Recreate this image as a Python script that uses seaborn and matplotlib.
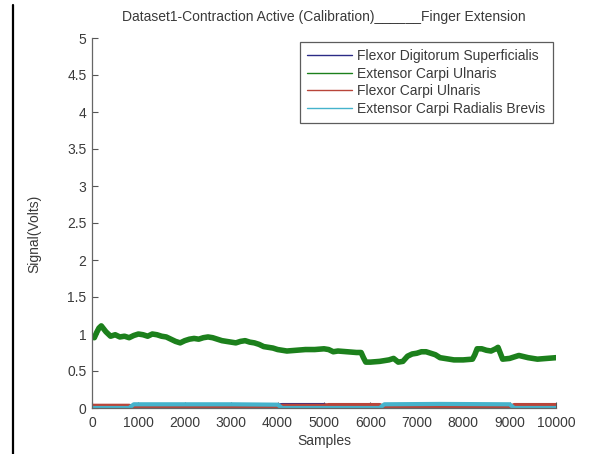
import numpy as np
import pandas as pd
import matplotlib
matplotlib.use("Agg")
import matplotlib.pyplot as plt
from matplotlib.lines import Line2D
import seaborn as sns

# ---------------- data ----------------
title = "Dataset1-Contraction Active (Calibration)______Finger Extension"
series_names = ["Flexor Digitorum Superficialis", "Extensor Carpi Ulnaris",
                "Flexor Carpi Ulnaris", "Extensor Carpi Radialis Brevis"]
series_colors = ["#2b2b86", "#1c801c", "#b8453a", "#45b3cc"]

ecu_samples = [0, 50, 100, 150, 200, 250, 300, 400, 500, 600, 700, 800, 900,
               1000, 1100, 1200, 1300, 1400, 1500, 1600, 1700, 1800, 1900,
               2000, 2100, 2200, 2300, 2400, 2500, 2600, 2700, 2800, 2900,
               3000, 3100, 3200, 3300, 3400, 3500, 3600, 3700, 3800, 3900,
               4000, 4200, 4400, 4600, 4800, 5000, 5100, 5200, 5300, 5500,
               5700, 5800, 5850, 5900, 6000, 6200, 6400, 6500, 6600, 6700,
               6800, 6900, 7000, 7100, 7200, 7300, 7400, 7500, 7600, 7800,
               8000, 8200, 8250, 8300, 8400, 8500, 8600, 8700, 8750, 8800,
               8850, 9000, 9200, 9400, 9600, 9800, 10000]
ecu_values = [0.96, 0.95, 1.02, 1.08, 1.11, 1.07, 1.03, 0.97, 0.99, 0.96, 0.97,
              0.95, 0.98, 1.00, 0.99, 0.97, 1.00, 0.99, 0.97, 0.96, 0.93, 0.90,
              0.88, 0.91, 0.93, 0.94, 0.93, 0.95, 0.96, 0.95, 0.93, 0.91, 0.90,
              0.89, 0.88, 0.90, 0.91, 0.89, 0.88, 0.86, 0.83, 0.82, 0.81, 0.79,
              0.77, 0.78, 0.79, 0.79, 0.80, 0.79, 0.76, 0.77, 0.76, 0.75, 0.75,
              0.68, 0.62, 0.62, 0.63, 0.65, 0.67, 0.62, 0.63, 0.70, 0.73, 0.74,
              0.76, 0.76, 0.74, 0.72, 0.68, 0.67, 0.65, 0.65, 0.66, 0.72, 0.80,
              0.80, 0.78, 0.77, 0.80, 0.82, 0.74, 0.66, 0.67, 0.71, 0.68, 0.66,
              0.67, 0.68]

low_samples = [0, 400, 800, 900, 2000, 3000, 4000, 4100, 5000, 5100, 6200,
               6300, 7500, 9000, 9100, 10000]
fds_values = [0.02, 0.02, 0.02, 0.03, 0.03, 0.03, 0.03, 0.04, 0.04, 0.02, 0.02,
              0.02, 0.02, 0.02, 0.02, 0.02]
fcu_values = [0.03, 0.03, 0.03, 0.01, 0.01, 0.01, 0.01, 0.03, 0.03, 0.04, 0.04,
              0.01, 0.01, 0.01, 0.04, 0.04]
ecrb_values = [0.00, 0.00, 0.00, 0.05, 0.05, 0.05, 0.045, 0.00, 0.00, 0.00,
               0.00, 0.05, 0.055, 0.05, 0.00, 0.00]

xticks = list(range(0, 10001, 1000))
yticks = [0, 0.5, 1, 1.5, 2, 2.5, 3, 3.5, 4, 4.5, 5]
ytick_labels = ["0", "0.5", "1", "1.5", "2", "2.5", "3", "3.5", "4", "4.5", "5"]

# ---------------- frame ----------------
frames = []
for name, xs, ys in [(series_names[0], low_samples, fds_values),
                     (series_names[1], ecu_samples, ecu_values),
                     (series_names[2], low_samples, fcu_values),
                     (series_names[3], low_samples, ecrb_values)]:
    frames.append(pd.DataFrame({"Samples": xs, "Signal": ys, "Muscle": name}))
df = pd.concat(frames, ignore_index=True)

sns.set_theme(style="ticks")
plt.rcParams["font.family"] = ["Liberation Sans", "DejaVu Sans"]
text_color = "#3a3a3a"

fig = plt.figure(figsize=(6.15, 4.54), dpi=100)
ax = fig.add_axes([92 / 615, 1 - 408 / 454, 464 / 615, 370 / 454])

lw = {series_names[0]: 3.0, series_names[1]: 4.0,
      series_names[2]: 3.0, series_names[3]: 3.0}
for name, color in zip(series_names, series_colors):
    sub = df[df["Muscle"] == name]
    sns.lineplot(data=sub, x="Samples", y="Signal", color=color, ax=ax,
                 linewidth=lw[name], estimator=None, sort=False, label=name)

ax.set_xlim(0, 10000)
ax.set_ylim(0, 5)
ax.set_xticks(xticks)
ax.set_xticklabels([str(t) for t in xticks])
ax.set_yticks(yticks)
ax.set_yticklabels(ytick_labels)
ax.tick_params(direction="in", length=4, width=0.8, colors="#555555",
               labelcolor=text_color, labelsize=10, pad=4)
ax.tick_params(axis="x", pad=6)
for s in ["top", "right"]:
    ax.spines[s].set_visible(False)
for s in ["left", "bottom"]:
    ax.spines[s].set_color("#666666")
    ax.spines[s].set_linewidth(0.9)

ax.set_xlabel("Samples", fontsize=10, color=text_color, labelpad=3)
ax.set_ylabel("Signal(Volts)", fontsize=10, color=text_color)
ax.yaxis.set_label_coords(-0.11, 0.47)
ax.set_title(title, fontsize=10, color=text_color, pad=12)

handles = [Line2D([0], [0], color=c, linewidth=1.0) for c in series_colors]
leg = ax.legend(handles, series_names, loc="upper right",
                bbox_to_anchor=(0.994, 0.99), borderaxespad=0, fontsize=10,
                frameon=True, fancybox=False, handlelength=3.2,
                handletextpad=0.4, labelspacing=0.25, borderpad=0.55,
                labelcolor=text_color)
leg.get_frame().set_edgecolor("#333333")
leg.get_frame().set_linewidth(0.9)

fig.add_artist(Line2D([12.5 / 615, 12.5 / 615], [0, 1 - 5 / 454],
                      transform=fig.transFigure, color="black", linewidth=1.6))

fig.savefig("out.png", dpi=100, facecolor="white")
